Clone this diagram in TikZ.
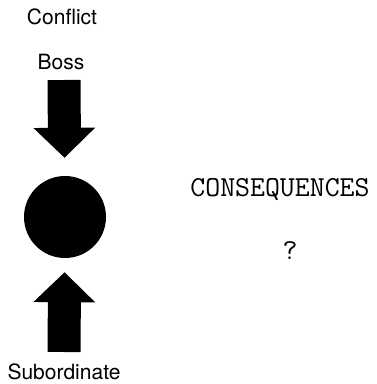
\documentclass[tikz,border=0pt]{standalone}
\usepackage{fontspec}
\setsansfont{TeX Gyre Heros}
\usetikzlibrary{arrows.meta}
\begin{document}
\begin{tikzpicture}[x=1pt, y=-1pt,
	label/.style={font=\sffamily\fontsize{21}{25}\selectfont, inner sep=0pt},
	typed/.style={font=\ttfamily\fontsize{29}{33}\selectfont, inner sep=0pt},
	bigarrow/.style={line width=33pt, -{Triangle[width=60pt, length=30pt]}}]
	\useasboundingbox (0,0) rectangle (377,384);

	%% Konflikt
	\node[label] (conflict) at (62,17) {Conflict};
	\node[label] (boss) at (61,62) {Boss};
	\node[circle, fill, inner sep=0pt, minimum size=82pt] (dot) at (65,217) {};
	\node[label] (sub) at (64,372) {Subordinate};
	%%%%%%%%%%%%%%%%

	%% Pfeile
	\coordinate (downtop) at (64,80);
	\coordinate (upbottom) at (64,352);
	\draw[bigarrow, shorten >=18pt] (downtop) -- (dot);
	\draw[bigarrow, shorten >=14pt] (upbottom) -- (dot);

	%% Folgen
	\node[typed] (cons) at (280,189) {CONSEQUENCES};
	\node[typed] (quest) at (290,251) {?};
\end{tikzpicture}
\end{document}
